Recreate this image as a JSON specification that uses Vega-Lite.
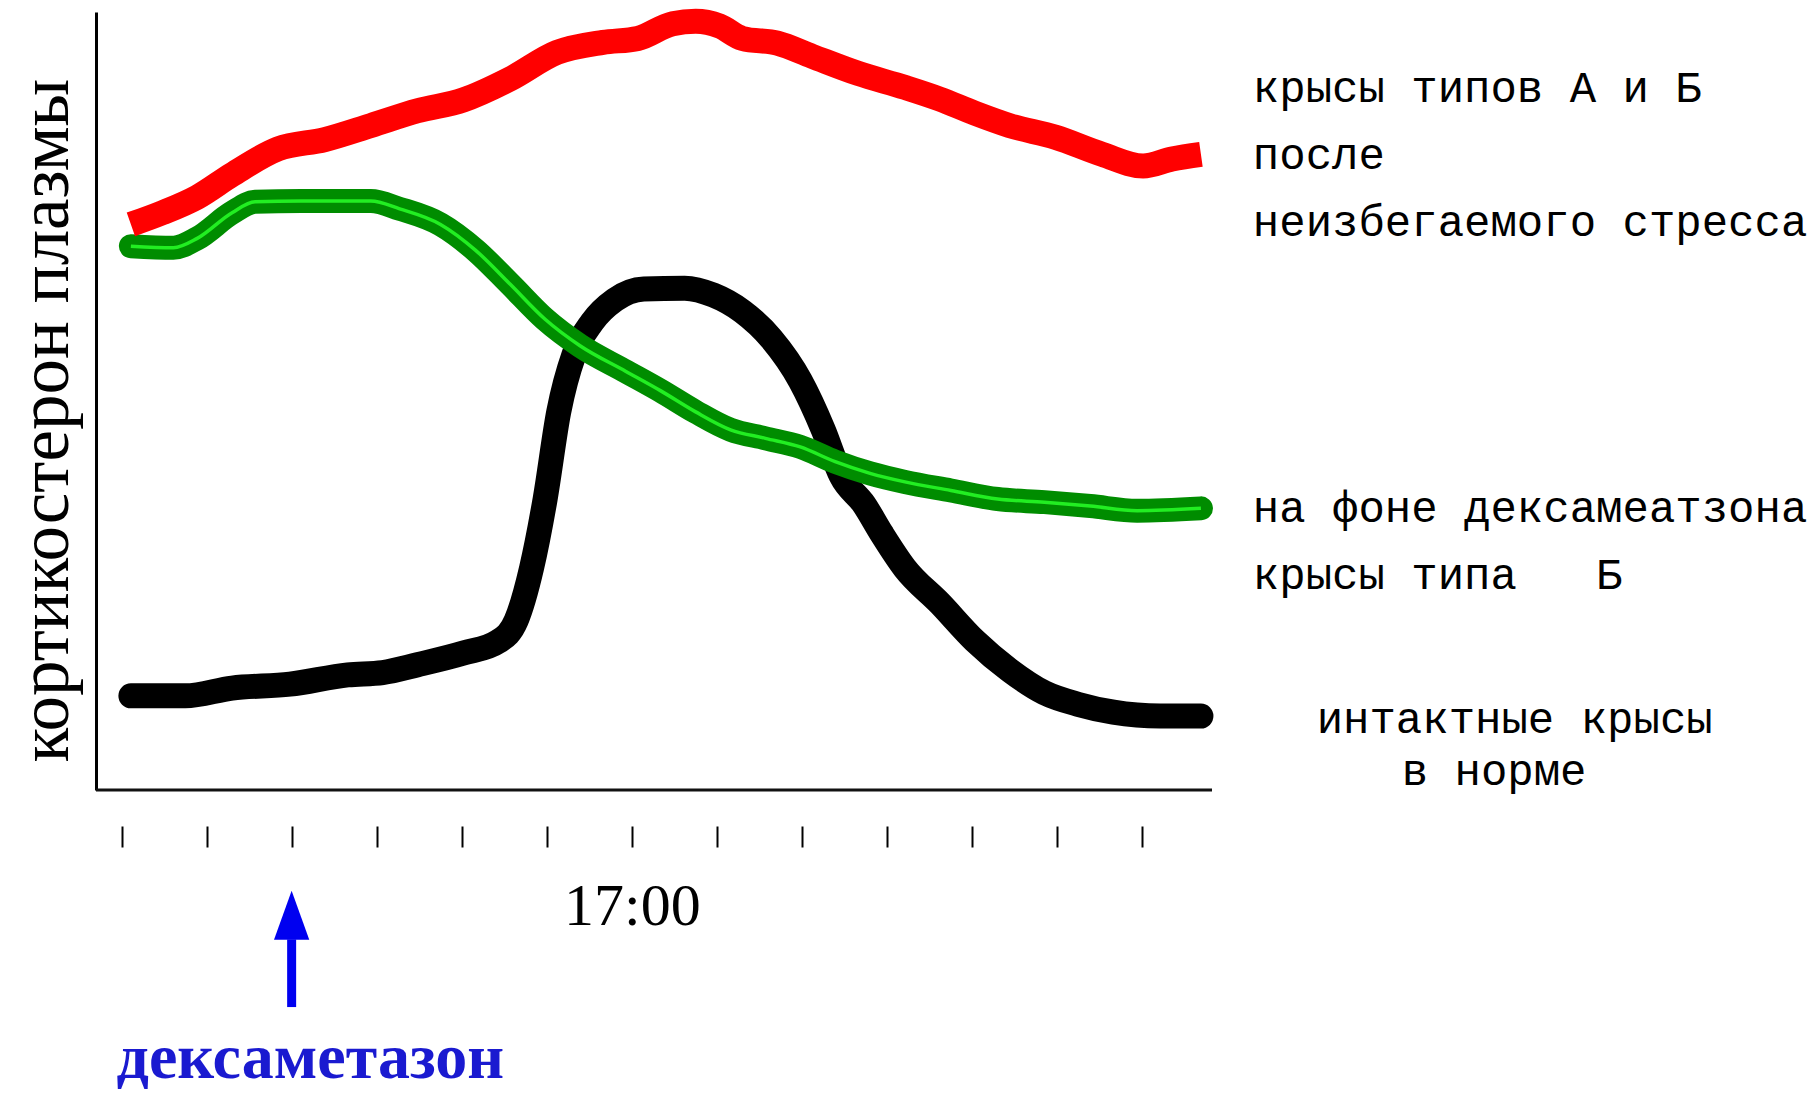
{
  "$schema": "https://vega.github.io/schema/vega-lite/v6.json",
  "width": 1116,
  "height": 778,
  "autosize": {"type": "none"},
  "padding": {"left": 96, "top": 12, "right": 607, "bottom": 304},
  "background": "white",
  "config": {"view": {"stroke": null}, "font": "Liberation Serif"},
  "datasets": {
    "curves": [
      {"series": "intact", "t": 11.11, "v": 12.1},
      {"series": "intact", "t": 11.75, "v": 12.1},
      {"series": "intact", "t": 12.30, "v": 13.1},
      {"series": "intact", "t": 12.98, "v": 13.6},
      {"series": "intact", "t": 13.66, "v": 14.8},
      {"series": "intact", "t": 14.07, "v": 15.1},
      {"series": "intact", "t": 14.48, "v": 16.1},
      {"series": "intact", "t": 15.02, "v": 17.6},
      {"series": "intact", "t": 15.43, "v": 19.1},
      {"series": "intact", "t": 15.64, "v": 21.8},
      {"series": "intact", "t": 15.82, "v": 28.5},
      {"series": "intact", "t": 15.98, "v": 37.4},
      {"series": "intact", "t": 16.14, "v": 48.6},
      {"series": "intact", "t": 16.32, "v": 56.0},
      {"series": "intact", "t": 16.53, "v": 60.1},
      {"series": "intact", "t": 16.80, "v": 63.0},
      {"series": "intact", "t": 17.14, "v": 64.4},
      {"series": "intact", "t": 17.62, "v": 64.5},
      {"series": "intact", "t": 17.96, "v": 63.6},
      {"series": "intact", "t": 18.30, "v": 61.5},
      {"series": "intact", "t": 18.64, "v": 58.0},
      {"series": "intact", "t": 18.98, "v": 52.6},
      {"series": "intact", "t": 19.25, "v": 46.3},
      {"series": "intact", "t": 19.46, "v": 40.4},
      {"series": "intact", "t": 19.73, "v": 36.7},
      {"series": "intact", "t": 19.94, "v": 32.9},
      {"series": "intact", "t": 20.21, "v": 28.5},
      {"series": "intact", "t": 20.62, "v": 24.0},
      {"series": "intact", "t": 21.03, "v": 19.2},
      {"series": "intact", "t": 21.44, "v": 15.4},
      {"series": "intact", "t": 21.85, "v": 12.5},
      {"series": "intact", "t": 22.25, "v": 11.0},
      {"series": "intact", "t": 22.66, "v": 10.0},
      {"series": "intact", "t": 23.21, "v": 9.5},
      {"series": "intact", "t": 23.69, "v": 9.5},
      {"series": "dexa", "t": 11.11, "v": 69.9},
      {"series": "dexa", "t": 11.61, "v": 69.7},
      {"series": "dexa", "t": 11.89, "v": 70.9},
      {"series": "dexa", "t": 12.30, "v": 74.2},
      {"series": "dexa", "t": 12.57, "v": 75.6},
      {"series": "dexa", "t": 13.11, "v": 75.7},
      {"series": "dexa", "t": 13.93, "v": 75.7},
      {"series": "dexa", "t": 14.27, "v": 74.7},
      {"series": "dexa", "t": 14.75, "v": 72.7},
      {"series": "dexa", "t": 15.16, "v": 69.4},
      {"series": "dexa", "t": 15.57, "v": 65.0},
      {"series": "dexa", "t": 15.98, "v": 60.5},
      {"series": "dexa", "t": 16.39, "v": 57.1},
      {"series": "dexa", "t": 16.93, "v": 53.8},
      {"series": "dexa", "t": 17.34, "v": 51.3},
      {"series": "dexa", "t": 17.75, "v": 48.6},
      {"series": "dexa", "t": 18.16, "v": 46.3},
      {"series": "dexa", "t": 18.57, "v": 45.2},
      {"series": "dexa", "t": 18.98, "v": 44.1},
      {"series": "dexa", "t": 19.39, "v": 42.2},
      {"series": "dexa", "t": 19.80, "v": 40.7},
      {"series": "dexa", "t": 20.21, "v": 39.6},
      {"series": "dexa", "t": 20.75, "v": 38.5},
      {"series": "dexa", "t": 21.30, "v": 37.4},
      {"series": "dexa", "t": 21.85, "v": 37.0},
      {"series": "dexa", "t": 22.39, "v": 36.5},
      {"series": "dexa", "t": 22.94, "v": 35.9},
      {"series": "dexa", "t": 23.69, "v": 36.2},
      {"series": "stress", "t": 11.11, "v": 72.7},
      {"series": "stress", "t": 11.48, "v": 74.2},
      {"series": "stress", "t": 11.89, "v": 76.2},
      {"series": "stress", "t": 12.30, "v": 79.1},
      {"series": "stress", "t": 12.84, "v": 82.4},
      {"series": "stress", "t": 13.39, "v": 83.6},
      {"series": "stress", "t": 13.93, "v": 85.4},
      {"series": "stress", "t": 14.48, "v": 87.3},
      {"series": "stress", "t": 15.02, "v": 88.7},
      {"series": "stress", "t": 15.57, "v": 91.4},
      {"series": "stress", "t": 16.12, "v": 94.8},
      {"series": "stress", "t": 16.66, "v": 96.1},
      {"series": "stress", "t": 17.07, "v": 96.6},
      {"series": "stress", "t": 17.48, "v": 98.5},
      {"series": "stress", "t": 17.75, "v": 98.8},
      {"series": "stress", "t": 18.03, "v": 98.2},
      {"series": "stress", "t": 18.30, "v": 96.6},
      {"series": "stress", "t": 18.71, "v": 96.0},
      {"series": "stress", "t": 19.12, "v": 94.3},
      {"series": "stress", "t": 19.66, "v": 92.1},
      {"series": "stress", "t": 20.21, "v": 90.3},
      {"series": "stress", "t": 20.62, "v": 88.8},
      {"series": "stress", "t": 21.03, "v": 87.0},
      {"series": "stress", "t": 21.44, "v": 85.4},
      {"series": "stress", "t": 21.98, "v": 83.9},
      {"series": "stress", "t": 22.53, "v": 81.7},
      {"series": "stress", "t": 23.01, "v": 80.2},
      {"series": "stress", "t": 23.35, "v": 81.1},
      {"series": "stress", "t": 23.69, "v": 81.7}
    ]
  },
  "layer": [
    {
      "data": {"values": [{}]},
      "mark": {"type": "rule", "color": "#111111", "strokeWidth": 3},
      "encoding": {"y": {"datum": 0, "type": "quantitative"}}
    },
    {
      "data": {"name": "curves"},
      "transform": [{"filter": "datum.series == 'intact'"}],
      "mark": {"type": "line", "color": "#000000", "strokeWidth": 25, "strokeCap": "round", "strokeJoin": "round", "interpolate": "monotone"},
      "encoding": {
        "x": {
          "field": "t", "type": "quantitative",
          "scale": {"domain": [10.7, 23.82], "nice": false, "zero": false},
          "axis": {
            "title": null, "domain": false, "grid": false, "offset": 36,
            "values": [11, 12, 13, 14, 15, 16, 17, 18, 19, 20, 21, 22, 23],
            "tickSize": 21, "tickWidth": 2, "tickColor": "#000000",
            "labelExpr": "datum.value == 17 ? '17:00' : ''",
            "labelFont": "Liberation Serif", "labelFontSize": 60, "labelColor": "#000000",
            "labelPadding": 30
          }
        },
        "y": {
          "field": "v", "type": "quantitative",
          "scale": {"domain": [0, 100], "nice": false, "zero": false},
          "axis": {
            "title": "кортикостерон плазмы", "titleFont": "Liberation Serif", "titleFontSize": 71,
            "titleFontWeight": "normal", "titleColor": "#000000", "titlePadding": 14, "titleY": 408,
            "domain": true, "domainColor": "#000000", "domainWidth": 3,
            "ticks": false, "labels": false, "grid": false
          }
        }
      }
    },
    {
      "data": {"name": "curves"},
      "transform": [{"filter": "datum.series == 'dexa'"}],
      "mark": {"type": "line", "color": "#008c00", "strokeWidth": 24, "strokeCap": "round", "strokeJoin": "round", "interpolate": "monotone"},
      "encoding": {
        "x": {"field": "t", "type": "quantitative"},
        "y": {"field": "v", "type": "quantitative"}
      }
    },
    {
      "data": {"name": "curves"},
      "transform": [{"filter": "datum.series == 'dexa'"}],
      "mark": {"type": "line", "color": "#22ee22", "strokeWidth": 3.5, "strokeJoin": "round", "interpolate": "monotone"},
      "encoding": {
        "x": {"field": "t", "type": "quantitative"},
        "y": {"field": "v", "type": "quantitative"}
      }
    },
    {
      "data": {"name": "curves"},
      "transform": [{"filter": "datum.series == 'stress'"}],
      "mark": {"type": "line", "color": "#ff0000", "strokeWidth": 25, "strokeJoin": "round", "interpolate": "monotone"},
      "encoding": {
        "x": {"field": "t", "type": "quantitative"},
        "y": {"field": "v", "type": "quantitative"}
      }
    },
    {
      "data": {"values": [{}]},
      "mark": {"type": "rule", "color": "#0000f0", "strokeWidth": 9},
      "encoding": {
        "x": {"datum": 13, "type": "quantitative"},
        "y": {"datum": -19.2, "type": "quantitative"},
        "y2": {"datum": -27.9}
      }
    },
    {
      "data": {"values": [{}]},
      "mark": {"type": "point", "shape": "M0,-1L0.72,1L-0.72,1Z", "size": 2400, "filled": true, "opacity": 1, "color": "#0000f0"},
      "encoding": {
        "x": {"datum": 13, "type": "quantitative"},
        "y": {"datum": -16.1, "type": "quantitative"}
      }
    },
    {
      "data": {"values": [{}]},
      "mark": {"type": "text", "text": "дексаметазон", "font": "Liberation Serif", "fontWeight": "bold", "fontSize": 64, "color": "#1a1ad0", "align": "center", "baseline": "middle"},
      "encoding": {
        "x": {"datum": 13.22, "type": "quantitative"},
        "y": {"datum": -34.6, "type": "quantitative"}
      }
    },
    {
      "data": {"values": [{}]},
      "mark": {"type": "text", "text": ["крысы типов А и Б", "после", "неизбегаемого стресса"], "font": "Liberation Mono", "fontSize": 44, "lineHeight": 67, "color": "#000000", "align": "left", "baseline": "alphabetic"},
      "encoding": {
        "x": {"datum": 24.3, "type": "quantitative"},
        "y": {"datum": 88.4, "type": "quantitative"}
      }
    },
    {
      "data": {"values": [{}]},
      "mark": {"type": "text", "text": ["на фоне дексамеатзона", "крысы типа\u00a0\u00a0\u00a0Б"], "font": "Liberation Mono", "fontSize": 44, "lineHeight": 67, "color": "#000000", "align": "left", "baseline": "alphabetic"},
      "encoding": {
        "x": {"datum": 24.3, "type": "quantitative"},
        "y": {"datum": 34.4, "type": "quantitative"}
      }
    },
    {
      "data": {"values": [{}]},
      "mark": {"type": "text", "text": "интактные крысы", "font": "Liberation Mono", "fontSize": 44, "color": "#000000", "align": "left", "baseline": "alphabetic"},
      "encoding": {
        "x": {"datum": 25.05, "type": "quantitative"},
        "y": {"datum": 7.3, "type": "quantitative"}
      }
    },
    {
      "data": {"values": [{}]},
      "mark": {"type": "text", "text": "в норме", "font": "Liberation Mono", "fontSize": 44, "color": "#000000", "align": "left", "baseline": "alphabetic"},
      "encoding": {
        "x": {"datum": 26.05, "type": "quantitative"},
        "y": {"datum": 0.6, "type": "quantitative"}
      }
    }
  ]
}
